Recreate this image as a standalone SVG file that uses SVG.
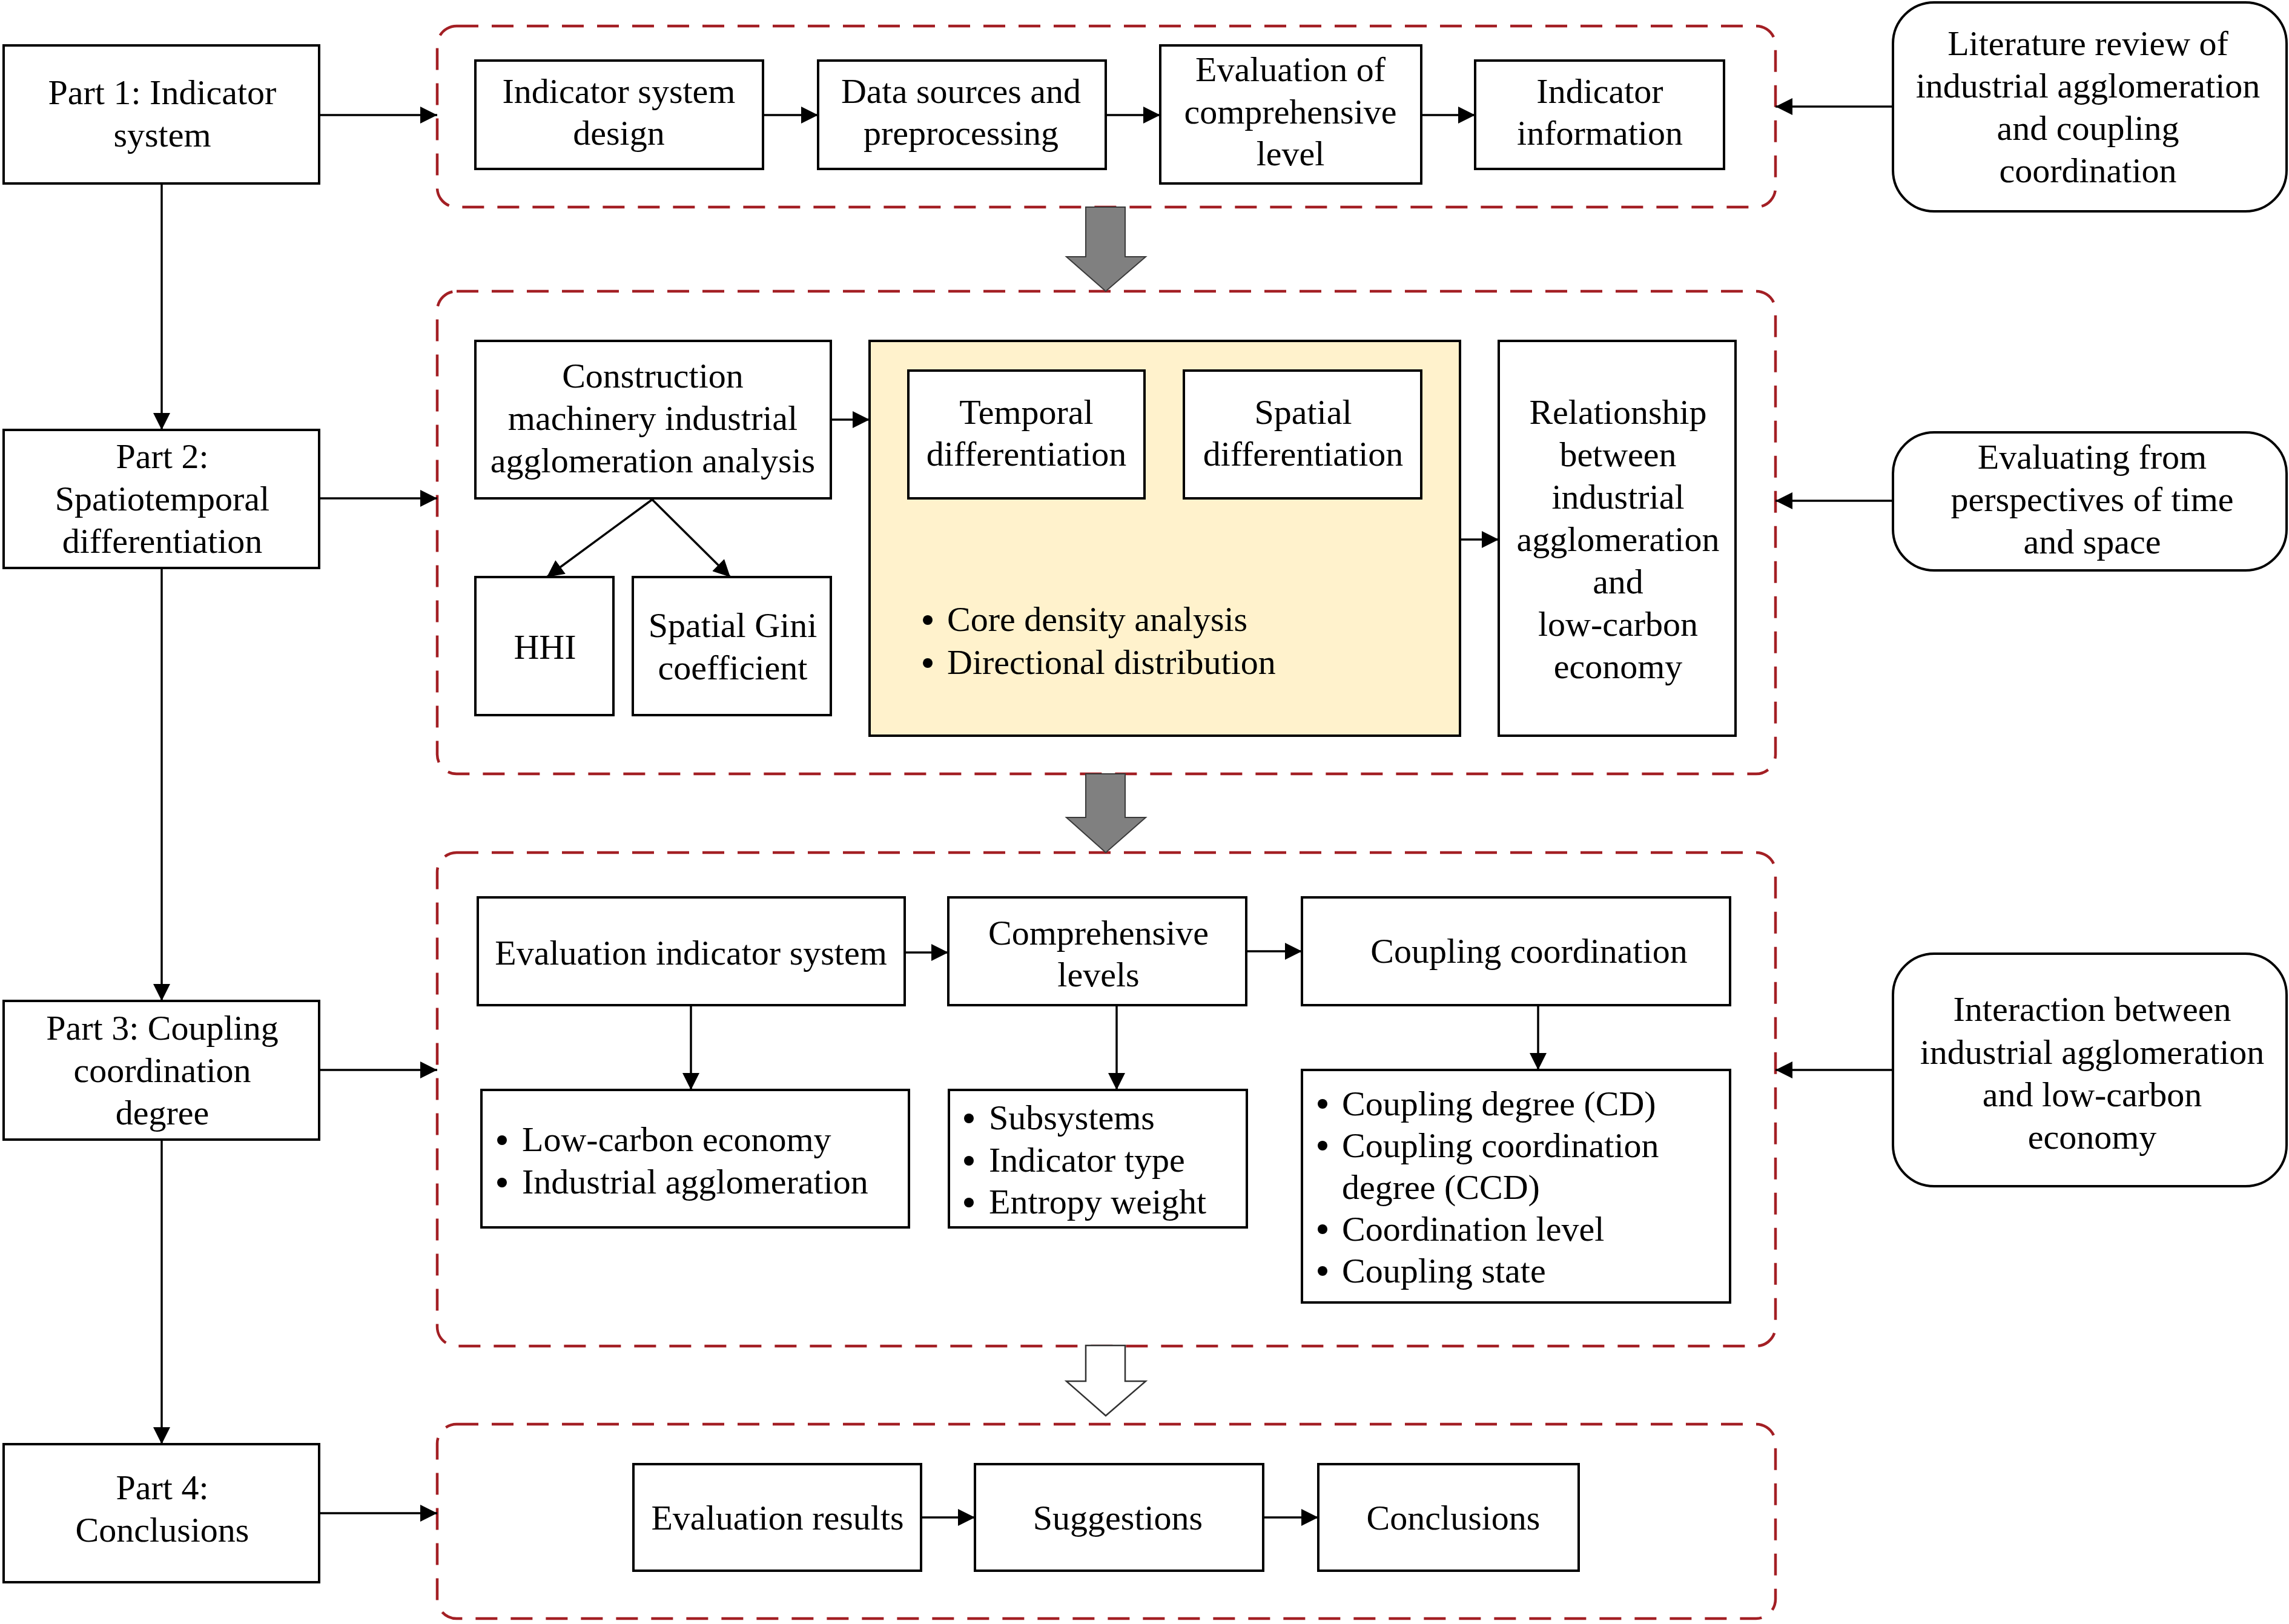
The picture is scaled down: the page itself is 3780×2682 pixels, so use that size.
<svg xmlns="http://www.w3.org/2000/svg" width="3780" height="2682" viewBox="0 0 3780 2682">
<style>
text{font-family:"Liberation Serif","Times New Roman",serif;font-size:58px;fill:#000;dominant-baseline:central}
.c{text-anchor:middle}
.box{fill:#fff;stroke:#000;stroke-width:4}
.rbox{fill:#fff;stroke:#000;stroke-width:4}
.cont{fill:none;stroke:#A31F24;stroke-width:4.5;stroke-dasharray:36 22}
.ln{fill:none;stroke:#000;stroke-width:3.5;marker-end:url(#ah)}
.blk{fill:#808080;stroke:#3a3a3a;stroke-width:2}
.wht{fill:#fff;stroke:#333;stroke-width:2.5}
</style>
<defs>
<marker id="ah" viewBox="0 0 10 10" refX="10" refY="5" markerUnits="userSpaceOnUse" markerWidth="30" markerHeight="28" orient="auto">
<path d="M0,0 L10,5 L0,10 z" fill="#000"/>
</marker>
</defs>
<rect width="3780" height="2682" fill="#fff"/>

<g id="containers">
<rect class="cont" x="722" y="43" width="2210" height="299" rx="32"/>
<rect class="cont" x="722" y="481" width="2210" height="797" rx="32"/>
<rect class="cont" x="722" y="1408" width="2210" height="815" rx="32"/>
<rect class="cont" x="722" y="2352" width="2210" height="321" rx="32"/>
</g>

<g id="block-arrows">
<polygon class="blk" points="1793,342 1858,342 1858,424 1892,424 1826,481 1761,424 1793,424"/>
<polygon class="blk" points="1793,1278 1858,1278 1858,1350 1892,1350 1826,1408 1761,1350 1793,1350"/>
<polygon class="wht" points="1793,2222 1858,2222 1858,2281 1892,2281 1826,2338 1761,2281 1793,2281"/>
</g>

<g id="connectors">
<line class="ln" x1="527" y1="190" x2="722" y2="190"/>
<line class="ln" x1="267" y1="303" x2="267" y2="710"/>
<line class="ln" x1="527" y1="823" x2="722" y2="823"/>
<line class="ln" x1="267" y1="938" x2="267" y2="1653"/>
<line class="ln" x1="527" y1="1767" x2="722" y2="1767"/>
<line class="ln" x1="267" y1="1882" x2="267" y2="2385"/>
<line class="ln" x1="527" y1="2499" x2="722" y2="2499"/>
<line class="ln" x1="1260" y1="190" x2="1351" y2="190"/>
<line class="ln" x1="1826" y1="190" x2="1916" y2="190"/>
<line class="ln" x1="2347" y1="190" x2="2436" y2="190"/>
<line class="ln" x1="3126" y1="176" x2="2932" y2="176"/>
<line class="ln" x1="1372" y1="693" x2="1436" y2="693"/>
<line class="ln" x1="1077" y1="825" x2="903" y2="953"/>
<line class="ln" x1="1077" y1="825" x2="1206" y2="953"/>
<line class="ln" x1="2411" y1="891" x2="2475" y2="891"/>
<line class="ln" x1="3126" y1="827" x2="2932" y2="827"/>
<line class="ln" x1="1494" y1="1573" x2="1566" y2="1573"/>
<line class="ln" x1="2058" y1="1571" x2="2150" y2="1571"/>
<line class="ln" x1="1141" y1="1660" x2="1141" y2="1800"/>
<line class="ln" x1="1844" y1="1660" x2="1844" y2="1800"/>
<line class="ln" x1="2540" y1="1660" x2="2540" y2="1767"/>
<line class="ln" x1="3126" y1="1767" x2="2932" y2="1767"/>
<line class="ln" x1="1521" y1="2506" x2="1610" y2="2506"/>
<line class="ln" x1="2086" y1="2506" x2="2177" y2="2506"/>
</g>

<g id="part1">
<rect class="box" x="6" y="75" width="521" height="228"/>
<text class="c" x="268" y="152">Part 1: Indicator</text>
<text class="c" x="268" y="222">system</text>
</g>
<g id="part2">
<rect class="box" x="6" y="710" width="521" height="228"/>
<text class="c" x="268" y="753">Part 2:</text>
<text class="c" x="268" y="823">Spatiotemporal</text>
<text class="c" x="268" y="893">differentiation</text>
</g>
<g id="part3">
<rect class="box" x="6" y="1653" width="521" height="229"/>
<text class="c" x="268" y="1697">Part 3: Coupling</text>
<text class="c" x="268" y="1767">coordination</text>
<text class="c" x="268" y="1837">degree</text>
</g>
<g id="part4">
<rect class="box" x="6" y="2385" width="521" height="228"/>
<text class="c" x="268" y="2456">Part 4:</text>
<text class="c" x="268" y="2526">Conclusions</text>
</g>

<g id="indicator-system-design">
<rect class="box" x="785" y="100" width="475" height="179"/>
<text class="c" x="1022" y="150">Indicator system</text>
<text class="c" x="1022" y="219">design</text>
</g>
<g id="data-sources">
<rect class="box" x="1351" y="100" width="475" height="179"/>
<text class="c" x="1587" y="150">Data sources and</text>
<text class="c" x="1587" y="219">preprocessing</text>
</g>
<g id="evaluation-comprehensive">
<rect class="box" x="1916" y="75" width="431" height="228"/>
<text class="c" x="2131" y="114">Evaluation of</text>
<text class="c" x="2131" y="184">comprehensive</text>
<text class="c" x="2131" y="253">level</text>
</g>
<g id="indicator-information">
<rect class="box" x="2436" y="100" width="411" height="179"/>
<text class="c" x="2642" y="150">Indicator</text>
<text class="c" x="2642" y="219">information</text>
</g>
<g id="literature-review">
<rect class="rbox" x="3126" y="4" width="650" height="345" rx="68"/>
<text class="c" x="3448" y="71">Literature review of</text>
<text class="c" x="3448" y="141">industrial agglomeration</text>
<text class="c" x="3448" y="211">and coupling</text>
<text class="c" x="3448" y="281">coordination</text>
</g>

<g id="construction-analysis">
<rect class="box" x="785" y="563" width="587" height="260"/>
<text class="c" x="1078" y="620">Construction</text>
<text class="c" x="1078" y="690">machinery industrial</text>
<text class="c" x="1078" y="760">agglomeration analysis</text>
</g>
<g id="hhi">
<rect class="box" x="785" y="953" width="228" height="228"/>
<text class="c" x="900" y="1068">HHI</text>
</g>
<g id="spatial-gini">
<rect class="box" x="1045" y="953" width="327" height="228"/>
<text class="c" x="1210" y="1032">Spatial Gini</text>
<text class="c" x="1210" y="1102">coefficient</text>
</g>
<g id="differentiation-panel">
<rect x="1436" y="563" width="975" height="652" fill="#FFF2CC" stroke="#000" stroke-width="4"/>
<circle cx="1532" cy="1024" r="8"/>
<text x="1564" y="1022">Core density analysis</text>
<circle cx="1532" cy="1095" r="8"/>
<text x="1564" y="1093">Directional distribution</text>
</g>
<g id="temporal-differentiation">
<rect class="box" x="1500" y="612" width="390" height="211"/>
<text class="c" x="1695" y="680">Temporal</text>
<text class="c" x="1695" y="749">differentiation</text>
</g>
<g id="spatial-differentiation">
<rect class="box" x="1955" y="612" width="392" height="211"/>
<text class="c" x="2152" y="680">Spatial</text>
<text class="c" x="2152" y="749">differentiation</text>
</g>
<g id="relationship">
<rect class="box" x="2475" y="563" width="391" height="652"/>
<text class="c" x="2672" y="680">Relationship</text>
<text class="c" x="2672" y="750">between</text>
<text class="c" x="2672" y="820">industrial</text>
<text class="c" x="2672" y="890">agglomeration</text>
<text class="c" x="2672" y="960">and</text>
<text class="c" x="2672" y="1030">low-carbon</text>
<text class="c" x="2672" y="1100">economy</text>
</g>
<g id="evaluating-time-space">
<rect class="rbox" x="3126" y="714" width="650" height="228" rx="68"/>
<text class="c" x="3455" y="754">Evaluating from</text>
<text class="c" x="3455" y="824">perspectives of time</text>
<text class="c" x="3455" y="894">and space</text>
</g>

<g id="evaluation-indicator-system">
<rect class="box" x="789" y="1482" width="705" height="178"/>
<text class="c" x="1141" y="1573">Evaluation indicator system</text>
</g>
<g id="comprehensive-levels">
<rect class="box" x="1566" y="1482" width="492" height="178"/>
<text class="c" x="1814" y="1540">Comprehensive</text>
<text class="c" x="1814" y="1609">levels</text>
</g>
<g id="coupling-coordination">
<rect class="box" x="2150" y="1482" width="707" height="178"/>
<text class="c" x="2525" y="1570">Coupling coordination</text>
</g>
<g id="subsystem-list">
<rect class="box" x="795" y="1800" width="706" height="227"/>
<circle cx="829" cy="1883" r="8"/>
<text x="862" y="1881">Low-carbon economy</text>
<circle cx="829" cy="1953" r="8"/>
<text x="862" y="1951">Industrial agglomeration</text>
</g>
<g id="levels-list">
<rect class="box" x="1567" y="1800" width="492" height="227"/>
<circle cx="1600" cy="1847" r="8"/>
<text x="1633" y="1845">Subsystems</text>
<circle cx="1600" cy="1917" r="8"/>
<text x="1633" y="1915">Indicator type</text>
<circle cx="1600" cy="1986" r="8"/>
<text x="1633" y="1984">Entropy weight</text>
</g>
<g id="coupling-list">
<rect class="box" x="2150" y="1767" width="707" height="384"/>
<circle cx="2184" cy="1823" r="8"/>
<text x="2216" y="1822">Coupling degree (CD)</text>
<circle cx="2184" cy="1892" r="8"/>
<text x="2216" y="1891">Coupling coordination</text>
<text x="2216" y="1960">degree (CCD)</text>
<circle cx="2184" cy="2030" r="8"/>
<text x="2216" y="2029">Coordination level</text>
<circle cx="2184" cy="2099" r="8"/>
<text x="2216" y="2098">Coupling state</text>
</g>
<g id="interaction">
<rect class="rbox" x="3126" y="1575" width="650" height="384" rx="68"/>
<text class="c" x="3455" y="1666">Interaction between</text>
<text class="c" x="3455" y="1737">industrial agglomeration</text>
<text class="c" x="3455" y="1807">and low-carbon</text>
<text class="c" x="3455" y="1877">economy</text>
</g>

<g id="evaluation-results">
<rect class="box" x="1046" y="2418" width="475" height="176"/>
<text class="c" x="1284" y="2506">Evaluation results</text>
</g>
<g id="suggestions">
<rect class="box" x="1610" y="2418" width="476" height="176"/>
<text class="c" x="1846" y="2506">Suggestions</text>
</g>
<g id="conclusions">
<rect class="box" x="2177" y="2418" width="430" height="176"/>
<text class="c" x="2400" y="2506">Conclusions</text>
</g>
</svg>
